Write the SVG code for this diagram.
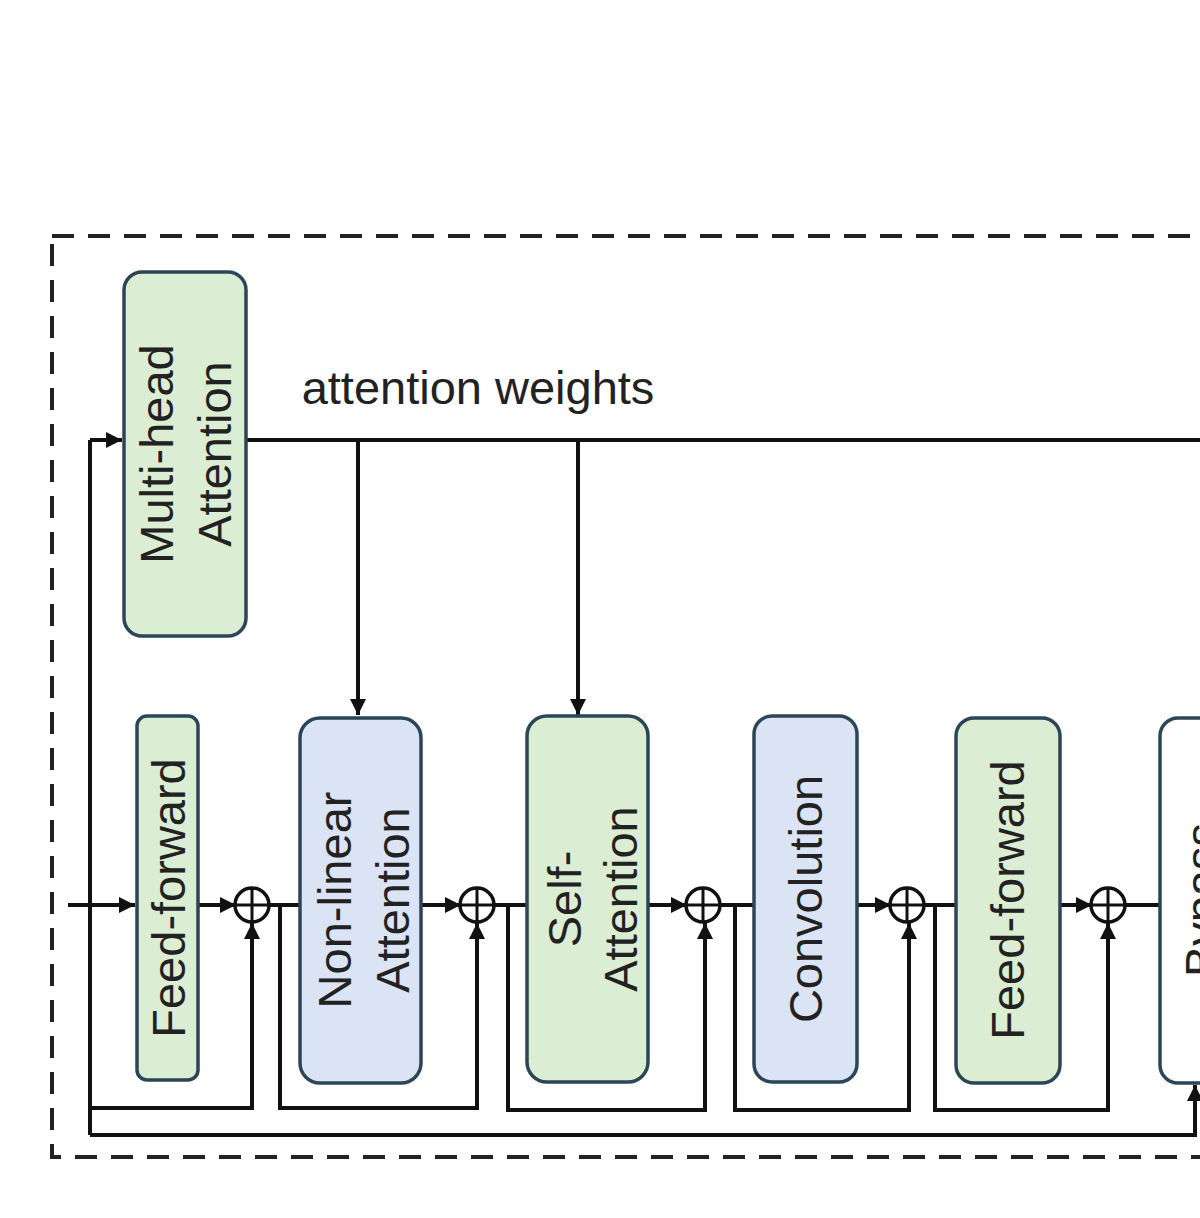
<svg xmlns="http://www.w3.org/2000/svg" width="1200" height="1218" viewBox="0 0 1200 1218">
<style>
.g{fill:#dbedd2;stroke:#2b4656;stroke-width:3.5}
.b{fill:#dbe4f4;stroke:#2b4656;stroke-width:3.5}
.w{fill:#fff;stroke:#2b4656;stroke-width:3.5}
.t{font-family:"Liberation Sans",Arial,sans-serif;font-size:47px;fill:#222;text-anchor:middle}
.c{fill:none;stroke:#111;stroke-width:4}
.a{fill:none;stroke:#111;stroke-width:4;marker-end:url(#ah)}
.o{fill:#fff;stroke:#111;stroke-width:3.5}
</style>
<defs>
<marker id="ah" viewBox="0 0 10 10" refX="10" refY="5" markerWidth="20" markerHeight="16" markerUnits="userSpaceOnUse" orient="auto"><path d="M0,0L10,5L0,10z" fill="#111"/></marker>
</defs>
<rect x="52" y="236" width="1200" height="921" fill="none" stroke="#222" stroke-width="4" stroke-dasharray="22,14"/>
<g id="connectors">
<path class="c" d="M90,1135V440"/>
<path class="a" d="M90,440H122"/>
<path class="c" d="M246,440H1200"/>
<path class="a" d="M358,440V715"/>
<path class="a" d="M578,440V715"/>
<path class="a" d="M68,905H135"/>
<path class="a" d="M198,905H236"/>
<path class="a" d="M269,905H330"/>
<path class="a" d="M421,905H461"/>
<path class="a" d="M494,905H555"/>
<path class="a" d="M648,905H687"/>
<path class="a" d="M720,905H782"/>
<path class="a" d="M857,905H891"/>
<path class="a" d="M924,905H985"/>
<path class="a" d="M1060,905H1092"/>
<path class="a" d="M1125,905H1185"/>
<path class="a" d="M90,1108H252V923"/>
<path class="a" d="M280,905V1108H477V923"/>
<path class="a" d="M508,905V1110H705V923"/>
<path class="a" d="M735,905V1110H909V923"/>
<path class="a" d="M935,905V1110H1108V923"/>
<path class="a" d="M90,1135H1195V1085"/>
</g>
<g id="adders">
<g><circle class="o" cx="252" cy="905" r="17"/><path class="c" style="stroke-width:3" d="M235,905H269M252,888V922"/></g>
<g><circle class="o" cx="477" cy="905" r="17"/><path class="c" style="stroke-width:3" d="M460,905H494M477,888V922"/></g>
<g><circle class="o" cx="703" cy="905" r="17"/><path class="c" style="stroke-width:3" d="M686,905H720M703,888V922"/></g>
<g><circle class="o" cx="907" cy="905" r="17"/><path class="c" style="stroke-width:3" d="M890,905H924M907,888V922"/></g>
<g><circle class="o" cx="1108" cy="905" r="17"/><path class="c" style="stroke-width:3" d="M1091,905H1125M1108,888V922"/></g>
</g>
<g id="mha"><rect class="g" x="124" y="272" width="122" height="364" rx="18"/>
<text class="t" transform="translate(173,454) rotate(-90)">Multi-head</text>
<text class="t" transform="translate(231,454) rotate(-90)">Attention</text></g>
<text class="t" x="478" y="404">attention weights</text>
<g id="ff1"><rect class="g" x="137" y="716" width="61" height="364" rx="10"/>
<text class="t" transform="translate(185,898) rotate(-90)">Feed-forward</text></g>
<g id="nla"><rect class="b" x="300" y="718" width="121" height="365" rx="20"/>
<text class="t" transform="translate(351,900) rotate(-90)">Non-linear</text>
<text class="t" transform="translate(409,900) rotate(-90)">Attention</text></g>
<g id="sa"><rect class="g" x="527" y="716" width="121" height="366" rx="20"/>
<text class="t" transform="translate(581,899) rotate(-90)">Self-</text>
<text class="t" transform="translate(637,899) rotate(-90)">Attention</text></g>
<g id="conv"><rect class="b" x="754" y="716" width="103" height="366" rx="18"/>
<text class="t" transform="translate(822,899) rotate(-90)">Convolution</text></g>
<g id="ff2"><rect class="g" x="956" y="718" width="104" height="365" rx="18"/>
<text class="t" transform="translate(1024,900) rotate(-90)">Feed-forward</text></g>
<g id="bypass"><rect class="w" x="1160" y="718" width="100" height="365" rx="18"/>
<text class="t" transform="translate(1218,900) rotate(-90)">Bypass</text></g>
</svg>
